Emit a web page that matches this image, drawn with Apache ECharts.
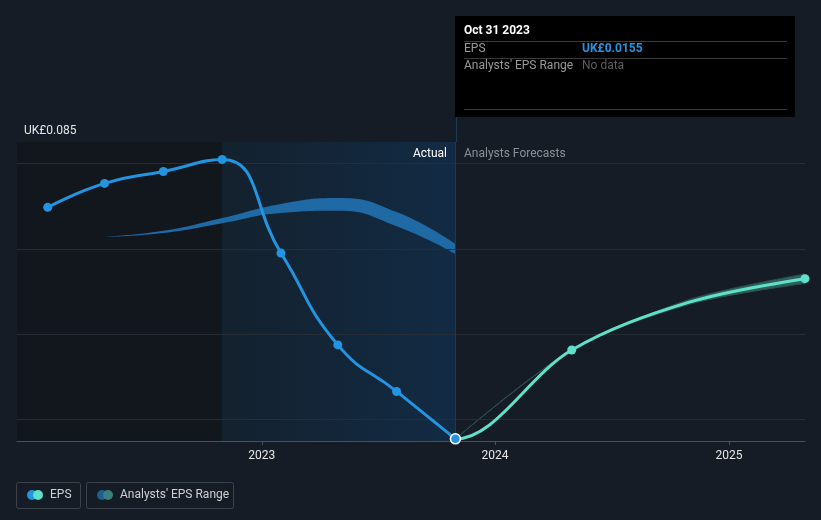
<!DOCTYPE html>
<html>
<head>
<meta charset="utf-8">
<script src="https://cdn.jsdelivr.net/npm/echarts@6/dist/echarts.min.js"></script>
<style>
  html, body { margin: 0; padding: 0; background: #161c25; }
  #chart { width: 821px; height: 520px; }
</style>
</head>
<body>
<div id="chart"></div>
<script>
// EPS actuals (quarterly)
const actualDates = ['2022-01-31', '2022-04-30', '2022-07-31', '2022-10-31', '2023-01-31', '2023-04-30', '2023-07-31', '2023-10-31']
const actualEps = [0.0697, 0.0753, 0.0781, 0.0809, 0.0590, 0.0375, 0.0266, 0.0155]
// analysts forecast (first value is the last-but-one actual, only used for the curve's shape)
const forecastDates = ['2023-07-31', '2023-10-31', '2024-04-30', '2024-10-31', '2025-04-30']
const forecastEps = [0.0266, 0.0155, 0.0363, 0.0475, 0.0530]
const rangeDates = ['2023-10-31', '2024-04-30', '2024-10-31', '2025-04-30']
const forecastLow = [0.0155, 0.0363, 0.0470, 0.0519]
const forecastHigh = [0.0155, 0.0363, 0.0481, 0.0541]
// past analysts EPS range
const pastRangeDates = ['2022-04-30', '2022-07-31', '2022-10-31', '2023-01-31', '2023-04-30', '2023-07-31', '2023-10-31']
const pastLow = [0.0628, 0.0637, 0.0660, 0.0684, 0.0689, 0.0653, 0.0588]
const pastHigh = [0.0628, 0.0642, 0.0672, 0.0705, 0.0719, 0.0686, 0.0611]
// axes
const yTicks = [0.02, 0.04, 0.06, 0.08]
const yLabels = [0.015, 0.085]
const yearTicks = ['2023-01-01', '2024-01-01', '2025-01-01']
const xStart = '2021-12-14'
const xEnd = '2025-04-30'
const actualEnd = '2023-10-31'
const pastEnd = '2022-10-31'

const blue = '#2394df'
const teal = '#5fe0c9'

let myChart = echarts.init(document.getElementById('chart'))

const pair = (dates, vals) => dates.map((d, i) => [d, vals[i]])
const ts = d => +new Date(d)
const shownYears = yearTicks.map(d => new Date(d).getFullYear())
const fixed = list => list.map(g => Object.assign({ z: 100 }, g))
// forecast markers only on the fiscal-year points
const markedForecast = ['2024-04-30', '2025-04-30']

myChart.setOption({
  backgroundColor: '#161c25',
  animation: false,
  grid: { left: 17, right: 16, top: 142, bottom: 79 },
  xAxis: {
    type: 'time',
    min: xStart,
    max: xEnd,
    splitNumber: 3,
    axisLine: { show: true, lineStyle: { color: '#4b515b', width: 1 } },
    axisTick: {
      show: true,
      length: 4,
      lineStyle: { color: '#4b515b' },
      customValues: yearTicks.map(ts),
    },
    axisLabel: {
      color: '#e6e6e6',
      fontSize: 12,
      fontFamily: 'Roboto',
      margin: 9,
      hideOverlap: false,
      formatter: v => {
        let dt = new Date(v)
        if (dt.getMonth() !== 0 || dt.getDate() !== 1) return ''
        return shownYears.indexOf(dt.getFullYear()) >= 0 ? String(dt.getFullYear()) : ''
      },
    },
    splitLine: { show: false },
  },
  yAxis: {
    type: 'value',
    min: 0.015,
    max: 0.085,
    axisLine: { show: false },
    axisTick: { show: false },
    splitLine: { show: false },
    axisLabel: {
      inside: true,
      margin: 7,
      color: '#e6e6e6',
      fontSize: 12,
      fontFamily: 'Roboto',
      verticalAlign: 'bottom',
      padding: [0, 0, 5, 0],
      customValues: yLabels,
      formatter: v => 'UK£' + v.toFixed(3),
    },
  },
  // hide the part of the forecast curve that lies under the actuals
  visualMap: {
    show: false,
    type: 'piecewise',
    seriesIndex: 5,
    dimension: 0,
    pieces: [
      { gte: ts(xStart), lt: ts(actualEnd), color: 'rgba(95,224,201,0)' },
      { gte: ts(actualEnd), lte: ts(xEnd), color: teal },
    ],
    outOfRange: { color: teal },
  },
  series: [
    // background regions + grid lines
    {
      type: 'line',
      data: [],
      silent: true,
      markArea: {
        silent: true,
        data: [
          [{ xAxis: xStart, itemStyle: { color: '#12161d' } }, { xAxis: pastEnd }],
          [
            {
              xAxis: pastEnd,
              itemStyle: {
                color: {
                  type: 'linear', x: 0, y: 0, x2: 1, y2: 0,
                  colorStops: [
                    { offset: 0, color: '#14212e' },
                    { offset: 1, color: '#122b44' },
                  ],
                },
              },
            },
            { xAxis: actualEnd },
          ],
        ],
      },
      markLine: {
        silent: true,
        symbol: 'none',
        label: { show: false },
        data: yTicks
          .map(v => ({ yAxis: v, lineStyle: { color: '#272d36', width: 1, type: 'solid' } }))
          .concat([
            { yAxis: 0.085, lineStyle: { color: '#4b515b', width: 1, type: 'solid' } },
            { xAxis: actualEnd, lineStyle: { color: '#1c3a56', width: 1, type: 'solid' } },
          ]),
      },
    },
    // past analysts range band
    {
      type: 'line',
      stack: 'past',
      smooth: true,
      symbol: 'none',
      lineStyle: { width: 0 },
      data: pair(pastRangeDates, pastLow),
    },
    {
      type: 'line',
      stack: 'past',
      smooth: true,
      symbol: 'none',
      lineStyle: { width: 0 },
      areaStyle: { color: '#1f6aa4', opacity: 1 },
      data: pastRangeDates.map((d, i) => [d, pastHigh[i] - pastLow[i]]),
    },
    // forecast range band
    {
      type: 'line',
      stack: 'fc',
      smooth: 0.3,
      symbol: 'none',
      lineStyle: { width: 1, color: '#2c4f50' },
      data: pair(rangeDates, forecastLow),
    },
    {
      type: 'line',
      stack: 'fc',
      smooth: 0.3,
      symbol: 'none',
      lineStyle: { width: 1, color: '#2c4f50' },
      areaStyle: { color: '#2f5f5c', opacity: 1 },
      data: rangeDates.map((d, i) => [d, forecastHigh[i] - forecastLow[i]]),
    },
    // forecast EPS
    {
      type: 'line',
      smooth: 0.35,
      lineStyle: { width: 3 },
      symbol: 'circle',
      symbolSize: 9,
      data: forecastDates.map((d, i) => ({
        value: [d, forecastEps[i]],
        symbol: markedForecast.indexOf(d) >= 0 ? 'circle' : 'none',
      })),
      z: 5,
    },
    // actual EPS
    {
      type: 'line',
      smooth: true,
      color: blue,
      lineStyle: { width: 3, color: blue },
      symbol: 'circle',
      symbolSize: 9,
      itemStyle: { color: blue },
      data: actualDates.map((d, i) => {
        let p = { value: [d, actualEps[i]] }
        if (i === actualDates.length - 1) {
          p.symbolSize = 10
          p.itemStyle = { color: blue, borderColor: '#ffffff', borderWidth: 1.5 }
        }
        return p
      }),
      z: 6,
    },
  ],
  graphic: fixed([
    // tooltip card
    { type: 'line', shape: { x1: 456.5, y1: 117, x2: 456.5, y2: 142 }, style: { stroke: '#1c3a56', lineWidth: 1 } },
    { type: 'rect', shape: { x: 455, y: 16, width: 340, height: 101 }, style: { fill: '#000000' } },
    { type: 'text', x: 464, y: 31, style: { text: 'Oct 31 2023', fill: '#ffffff', font: 'bold 12px Roboto', verticalAlign: 'middle' } },
    { type: 'line', shape: { x1: 464, y1: 41.5, x2: 787, y2: 41.5 }, style: { stroke: '#3a3a3a', lineWidth: 1 } },
    { type: 'text', x: 464, y: 49, style: { text: 'EPS', fill: '#9a9a9a', font: '12px Roboto', verticalAlign: 'middle' } },
    { type: 'text', x: 582, y: 49, style: { text: 'UK£0.0155', fill: blue, font: 'bold 12px Roboto', verticalAlign: 'middle' } },
    { type: 'line', shape: { x1: 464, y1: 58.5, x2: 787, y2: 58.5 }, style: { stroke: '#3a3a3a', lineWidth: 1 } },
    { type: 'text', x: 464, y: 66, style: { text: "Analysts' EPS Range", fill: '#9a9a9a', font: '12px Roboto', verticalAlign: 'middle' } },
    { type: 'text', x: 582, y: 66, style: { text: 'No data', fill: '#5e5e5e', font: '12px Roboto', verticalAlign: 'middle' } },
    { type: 'line', shape: { x1: 464, y1: 109.5, x2: 787, y2: 109.5 }, style: { stroke: '#3a3a3a', lineWidth: 1 } },
    // Actual / Analysts Forecasts
    { type: 'text', x: 447, y: 154, style: { text: 'Actual', fill: '#ffffff', font: '12px Roboto', align: 'right', verticalAlign: 'middle' } },
    { type: 'text', x: 464, y: 154, style: { text: 'Analysts Forecasts', fill: '#8b9097', font: '12px Roboto', verticalAlign: 'middle' } },
    // legend
    { type: 'rect', shape: { x: 16.5, y: 482.5, width: 64, height: 26, r: 2 }, style: { fill: 'none', stroke: '#3c424b', lineWidth: 1 } },
    { type: 'circle', shape: { cx: 32, cy: 495, r: 5 }, style: { fill: blue } },
    { type: 'circle', shape: { cx: 38, cy: 495, r: 5 }, style: { fill: teal } },
    { type: 'text', x: 50, y: 495, style: { text: 'EPS', fill: '#d0d0d0', font: '12px Roboto', verticalAlign: 'middle' } },
    { type: 'rect', shape: { x: 86.5, y: 482.5, width: 147, height: 26, r: 2 }, style: { fill: 'none', stroke: '#3c424b', lineWidth: 1 } },
    { type: 'circle', shape: { cx: 102, cy: 495, r: 5 }, style: { fill: '#1f5f8f' } },
    { type: 'circle', shape: { cx: 108, cy: 495, r: 5 }, style: { fill: '#3b7f7c' } },
    { type: 'text', x: 120, y: 495, style: { text: "Analysts' EPS Range", fill: '#d0d0d0', font: '12px Roboto', verticalAlign: 'middle' } },
  ]),
})
</script>
</body>
</html>
